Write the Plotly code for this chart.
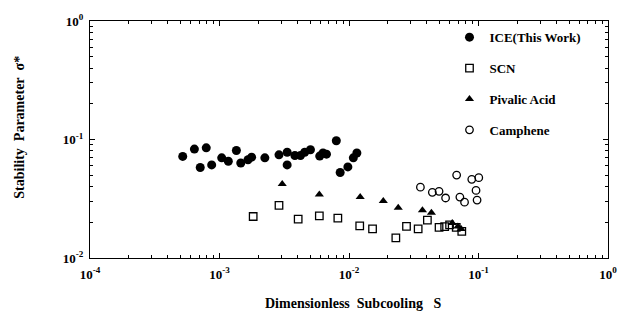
import plotly.graph_objects as go

# ---- data ----
ice_x = [5.2e-4, 6.4e-4, 7.9e-4, 7.1e-4, 8.7e-4, 1.04e-3, 1.17e-3, 1.35e-3, 1.46e-3,
         1.66e-3, 1.77e-3, 2.24e-3, 2.88e-3, 3.33e-3, 3.33e-3, 3.82e-3, 4.22e-3,
         4.55e-3, 5.04e-3, 5.94e-3, 6.3e-3, 6.7e-3, 7.98e-3, 8.55e-3, 9.8e-3,
         1.08e-2, 1.15e-2]
ice_y = [0.072, 0.083, 0.085, 0.058, 0.061, 0.070, 0.0655, 0.0807, 0.0633,
         0.0675, 0.071, 0.070, 0.0742, 0.078, 0.061, 0.0733, 0.0733,
         0.078, 0.082, 0.0724, 0.077, 0.0752, 0.0975, 0.0527, 0.0587,
         0.070, 0.077]

scn_x = [1.82e-3, 2.88e-3, 4.05e-3, 5.9e-3, 8.2e-3, 1.21e-2, 1.52e-2, 2.30e-2,
         2.78e-2, 3.42e-2, 4.03e-2, 4.96e-2, 5.48e-2, 5.98e-2, 6.73e-2, 7.43e-2]
scn_y = [0.0224, 0.0278, 0.0213, 0.0227, 0.0217, 0.0187, 0.0176, 0.0148,
         0.0185, 0.0176, 0.0209, 0.0181, 0.0184, 0.0190, 0.0181, 0.0168]

piv_x = [3.05e-3, 5.9e-3, 1.22e-2, 1.84e-2, 2.40e-2, 3.69e-2, 4.33e-2, 6.27e-2,
         6.93e-2, 7.35e-2]
piv_y = [0.0422, 0.0343, 0.0327, 0.0302, 0.0265, 0.0253, 0.0241, 0.0197,
         0.0184, 0.0176]

cam_x = [3.56e-2, 4.40e-2, 4.96e-2, 5.57e-2, 6.78e-2, 7.18e-2, 7.80e-2, 8.87e-2,
         0.1005, 9.57e-2, 9.75e-2]
cam_y = [0.0396, 0.0358, 0.0365, 0.0321, 0.0501, 0.0327, 0.0296, 0.0461,
         0.0476, 0.0372, 0.0308]

x_tickvals = [1e-4, 1e-3, 1e-2, 1e-1, 1]
x_ticktext = ["10<sup>-4</sup>", "10<sup>-3</sup>", "10<sup>-2</sup>",
              "10<sup>-1</sup>", "10<sup>0</sup>"]
y_tickvals = [1e-2, 1e-1, 1]
y_ticktext = ["10<sup>-2</sup>", "10<sup>-1</sup>", "10<sup>0</sup>"]

FONT = "Liberation Serif"
BOLD = "<b>%s</b>"

fig = go.Figure()
series = [
    ("ICE(This Work)", ice_x, ice_y, "circle", 9, 0),
    ("SCN", scn_x, scn_y, "square-open", 7.5, 1.3),
    ("Pivalic Acid", piv_x, piv_y, "triangle-up", 8, 0),
    ("Camphene", cam_x, cam_y, "circle-open", 7.5, 1.3),
]
for i, (name, xs, ys, sym, sz, lw) in enumerate(series):
    fig.add_trace(go.Scatter(
        x=xs, y=ys, mode="markers", name=BOLD % name, legendgroup=str(i),
        marker=dict(symbol=sym, size=sz, color="black",
                    line=dict(color="black", width=lw)),
    ))

minor_x = [m * 10.0 ** k for k in range(-4, 0) for m in range(2, 10)]
minor_y = [m * 10.0 ** k for k in range(-2, 0) for m in range(2, 10)]

axis_common = dict(
    type="log", showgrid=False, zeroline=False, showline=True,
    linecolor="black", linewidth=1.2, mirror="ticks", ticks="inside",
    ticklen=5, tickcolor="black", tickwidth=1.2,
    tickfont=dict(family=FONT, size=13, color="black"),
)
fig.update_xaxes(
    **axis_common, range=[-4, 0], tickvals=x_tickvals,
    ticktext=[BOLD % t for t in x_ticktext], ticklabelstandoff=4,
    minor=dict(tickvals=minor_x, ticks="inside", ticklen=3, tickcolor="black",
               tickwidth=1, showgrid=False),
)
fig.update_yaxes(
    **axis_common, range=[-2, 0], tickvals=y_tickvals,
    ticktext=[BOLD % t for t in y_ticktext], ticklabelstandoff=3,
    minor=dict(tickvals=minor_y, ticks="inside", ticklen=3, tickcolor="black",
               tickwidth=1, showgrid=False),
)

fig.add_annotation(
    text=BOLD % "Dimensionless\u00a0\u00a0Subcooling\u00a0\u00a0\u00a0S",
    xref="paper", yref="paper", x=0.508, y=-0.19, yanchor="middle",
    showarrow=False, font=dict(family=FONT, size=14, color="black"),
)
fig.add_annotation(
    text=BOLD % "Stability\u00a0\u00a0Parameter\u00a0\u00a0σ*",
    xref="paper", yref="paper", x=-0.135, xanchor="center", y=0.55,
    textangle=-90, showarrow=False,
    font=dict(family=FONT, size=14, color="black"),
)

fig.update_layout(
    width=629, height=320,
    margin=dict(l=90, r=18, t=16, b=62),
    paper_bgcolor="white", plot_bgcolor="white",
    showlegend=True,
    legend=dict(x=0.694, y=0.995, xanchor="left", yanchor="top",
                bgcolor="rgba(0,0,0,0)", tracegroupgap=11,
                font=dict(family=FONT, size=13, color="black")),
)

fig.write_html("out.html")
